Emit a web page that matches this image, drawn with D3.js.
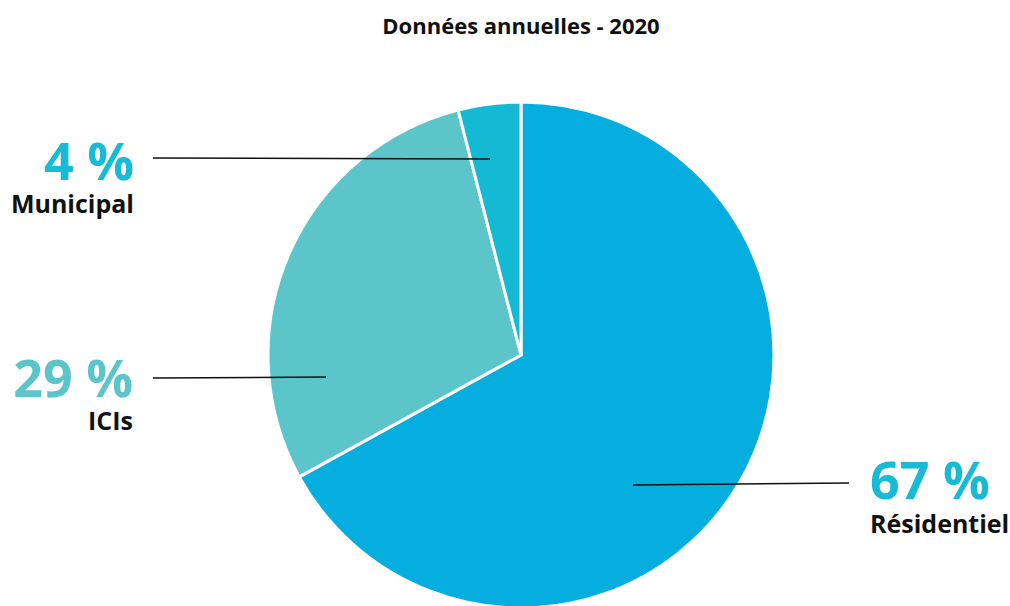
<!DOCTYPE html>
<html>
<head>
<meta charset="utf-8">
<script src="https://cdn.jsdelivr.net/npm/d3@7"></script>
<style>
  body { margin: 0; background: #fff; }
  text { font-family: "Open Sans", sans-serif; font-weight: 700; }
</style>
</head>
<body>
<svg id="chart" width="1010" height="606"></svg>
<script>
var width = 1010;
var height = 606;

// data
var categories = ["Résidentiel", "ICIs", "Municipal"];
var values = [67, 29, 4];
var sliceColors = ["#06aee0", "#5bc5ca", "#14bad3"];
var labelColors = ["#18bbd6", "#5bc5ca", "#18bbd6"];
var title = "Données annuelles - 2020";

var cx = 521, cy = 355, radius = 253;

var svg = d3.select("#chart");

svg.append("text")
    .attr("x", cx)
    .attr("y", 34)
    .attr("text-anchor", "middle")
    .style("font-size", "22px")
    .style("fill", "#111")
    .text(title);

var pie = d3.pie().sort(null).value(function(d) { return d; });
var arc = d3.arc().innerRadius(0).outerRadius(radius);
var arcs = pie(values);

var g = svg.append("g").attr("transform", "translate(" + cx + "," + cy + ")");

g.selectAll("path")
    .data(arcs)
    .enter()
    .append("path")
    .attr("d", arc)
    .style("fill", function(d, i) { return sliceColors[i]; })
    .style("stroke", "white")
    .style("stroke-width", "3");

// leader lines and label placement
var leaders = [
    { x1: 633, y1: 485, x2: 849, y2: 483, side: "right", textX: 870, pctY: 499, nameY: 533 },
    { x1: 326, y1: 377, x2: 153, y2: 378, side: "left", textX: 133, pctY: 397, nameY: 430 },
    { x1: 490, y1: 159, x2: 153, y2: 158, side: "left", textX: 134, pctY: 180, nameY: 213 }
];

arcs.forEach(function(d, i) {
    var L = leaders[i];
    svg.append("line")
        .attr("x1", L.x1).attr("y1", L.y1)
        .attr("x2", L.x2).attr("y2", L.y2)
        .style("stroke", "#111")
        .style("stroke-width", "1.5");

    var anchor = L.side == "right" ? "start" : "end";
    svg.append("text")
        .attr("x", L.textX)
        .attr("y", L.pctY)
        .attr("text-anchor", anchor)
        .style("font-size", "52px")
        .style("fill", labelColors[i])
        .text(values[i] + " %");
    svg.append("text")
        .attr("x", L.textX)
        .attr("y", L.nameY)
        .attr("text-anchor", anchor)
        .style("font-size", "25px")
        .style("fill", "#111")
        .text(categories[i]);
});
</script>
</body>
</html>
